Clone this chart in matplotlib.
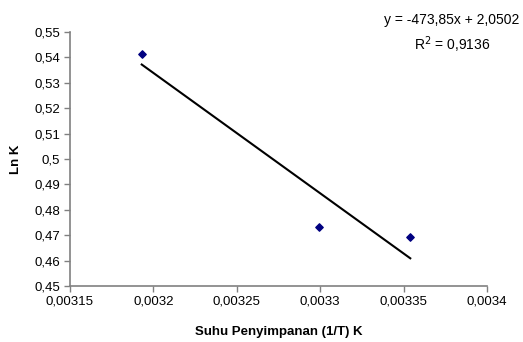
import numpy as np
import matplotlib.pyplot as plt

plt.rcParams['font.family'] = ['Liberation Sans', 'DejaVu Sans']

# data
suhu = [0.003193, 0.003299, 0.003354]     # 1/T
ln_k = [0.5412, 0.4733, 0.4694]
slope = -473.85
intercept = 2.0502
r2 = 0.9136

xticks = [0.00315, 0.0032, 0.00325, 0.0033, 0.00335, 0.0034]
xtick_labels = ['0,00315', '0,0032', '0,00325', '0,0033', '0,00335', '0,0034']
yticks = [0.45, 0.46, 0.47, 0.48, 0.49, 0.5, 0.51, 0.52, 0.53, 0.54, 0.55]
ytick_labels = ['0,45', '0,46', '0,47', '0,48', '0,49', '0,5', '0,51', '0,52', '0,53', '0,54', '0,55']

fig = plt.figure(figsize=(5.23, 3.42), dpi=100)
ax = fig.add_axes([70/523, 1 - 286/342, (487-70)/523, (286-32)/342])

# garis trend
xl = np.array([min(suhu), max(suhu)])
ax.plot(xl, slope*xl + intercept, color='black', lw=1.5, zorder=2)
ax.scatter(suhu, ln_k, marker='D', s=14, color='#000080', zorder=3)

ax.set_xlim(0.00315, 0.0034)
ax.set_ylim(0.45, 0.55)
ax.set_xticks(xticks)
ax.set_xticklabels(xtick_labels)
ax.set_yticks(yticks)
ax.set_yticklabels(ytick_labels)

for s in ['top', 'right']:
    ax.spines[s].set_visible(False)
for s in ['left', 'bottom']:
    ax.spines[s].set_color('#808080')
    ax.spines[s].set_linewidth(1.2)
ax.tick_params(direction='out', length=4, width=1, color='#808080', labelsize=9.5, pad=3)

ax.set_xlabel('Suhu Penyimpanan (1/T) K', fontsize=9.5, fontweight='bold', labelpad=13)
ax.set_ylabel('Ln K', fontsize=9.5, fontweight='bold', labelpad=9)

fig.text(452/523, 1 - 20/342, 'y = -473,85x + 2,0502', fontsize=10, ha='center', va='center')
fig.text(452/523, 1 - 45/342, 'R$^2$ = 0,9136', fontsize=10, ha='center', va='center')

fig.savefig('out.png', dpi=100)
